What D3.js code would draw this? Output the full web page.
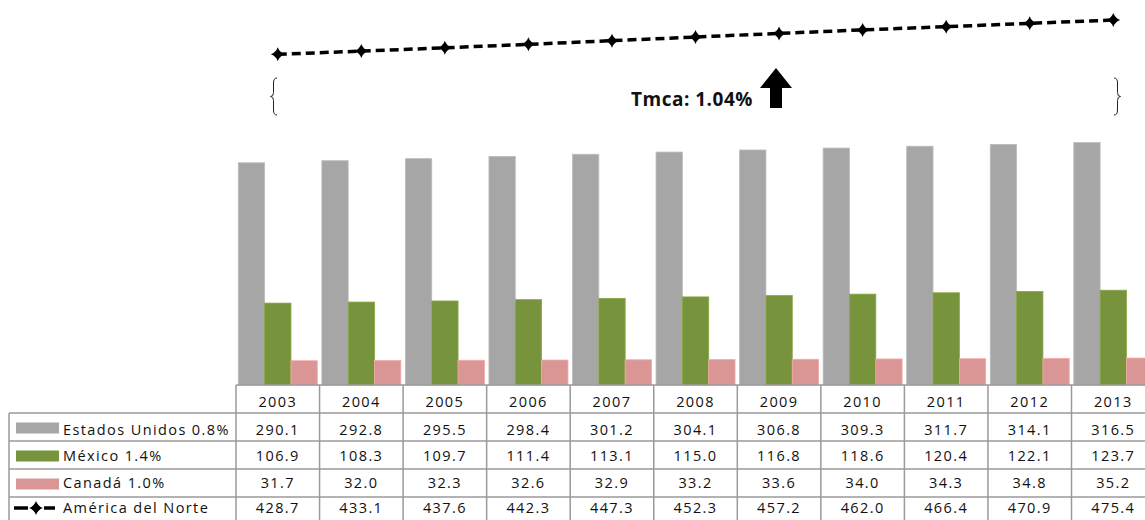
<!DOCTYPE html>
<html><head><meta charset="utf-8">
<script src="https://cdn.jsdelivr.net/npm/d3@7"></script>
<style>
html,body{margin:0;padding:0;background:#fff;}
svg{display:block;}
text{font-family:"Open Sans",sans-serif;fill:#111;}
</style></head>
<body>
<svg id="c" width="1145" height="520"></svg>
<script>
const years = ["2003","2004","2005","2006","2007","2008","2009","2010","2011","2012","2013"];
const seriesNames = ["Estados Unidos 0.8%","México 1.4%","Canadá 1.0%"];
const estadosUnidos = [290.1,292.8,295.5,298.4,301.2,304.1,306.8,309.3,311.7,314.1,316.5];
const mexico = [106.9,108.3,109.7,111.4,113.1,115.0,116.8,118.6,120.4,122.1,123.7];
const canada = [31.7,32.0,32.3,32.6,32.9,33.2,33.6,34.0,34.3,34.8,35.2];
const lineName = "América del Norte";
const americaNorte = [428.7,433.1,437.6,442.3,447.3,452.3,457.2,462.0,466.4,470.9,475.4];
const colors = ["#a6a6a6","#77933c","#d99694"];
const annotation = "Tmca: 1.04%";

const svg = d3.select("#c");
const bandW = 83.55, x0 = 236;
const x = d3.scaleBand().domain(years).range([x0, x0 + bandW*years.length]).padding(0);
const x1 = d3.scaleBand().domain(seriesNames).range([2.3, 81.3]).padding(0);
const y = d3.scaleLinear().domain([0,500]).range([385, 2]);
const yLine = d3.scaleLinear().domain([0,500]).range([369, 2]);

const seriesVals = [estadosUnidos, mexico, canada];

// bars
seriesNames.forEach((s, si) => {
  svg.append("g").selectAll("rect").data(years).join("rect")
    .attr("x", d => x(d) + x1(s))
    .attr("width", x1.bandwidth())
    .attr("y", (d,i) => y(seriesVals[si][i]))
    .attr("height", (d,i) => y(0) - y(seriesVals[si][i]))
    .attr("fill", colors[si])
    .attr("stroke", d3.color(colors[si]).brighter(0.35))
    .attr("stroke-width", 0.8);
});

// line
const cx = d => x(d) + x.bandwidth()/2;
const line = d3.line().x((d,i) => cx(years[i])).y(d => yLine(d));
svg.append("path").datum(americaNorte)
  .attr("d", line).attr("fill","none").attr("stroke","#000")
  .attr("stroke-width",3.5).attr("stroke-dasharray","9,5");
const star = "M0,-7Q1.8,-1.8 7,0Q1.8,1.8 0,7Q-1.8,1.8 -7,0Q-1.8,-1.8 0,-7Z";
svg.append("g").selectAll("path").data(americaNorte).join("path")
  .attr("d", star)
  .attr("transform", (d,i) => `translate(${cx(years[i])},${yLine(d)})`)
  .attr("fill","#000");

// braces
const bTop = 78, bBot = 115, bMid = (bTop+bBot)/2;
function brace(xe, dir){ // dir -1 points left, +1 points right
  const xs = xe + dir*3.5, xp = xs + dir*3;
  return `M${xe},${bTop}Q${xs},${bTop} ${xs},${bTop+5}L${xs},${bMid-4}Q${xs},${bMid} ${xp},${bMid}Q${xs},${bMid} ${xs},${bMid+4}L${xs},${bBot-5}Q${xs},${bBot} ${xe},${bBot}`;
}
svg.append("path").attr("d", brace(277,-1)).attr("fill","none").attr("stroke","#222").attr("stroke-width",1);
svg.append("path").attr("d", brace(1114,1)).attr("fill","none").attr("stroke","#222").attr("stroke-width",1);

// annotation
svg.append("text").attr("x",631).attr("y",106).attr("font-weight","bold")
  .attr("font-size",19).attr("letter-spacing","0.5px").attr("fill","#000").text(annotation);
svg.append("path").attr("d","M760,88L776,68L792,88L782,88L782,108L770,108L770,88Z").attr("fill","#000");

// table
const rowBase = [406.5,435,461,488,513];
const tg = svg.append("g");
const gridC = "#9a9a9a";
const xEnd = x0 + bandW*years.length;
tg.append("line").attr("x1",x0).attr("x2",xEnd).attr("y1",385).attr("y2",385).attr("stroke",gridC).attr("stroke-width",1.5);
[413,441,469,497].forEach(yy => tg.append("line").attr("x1",9).attr("x2",xEnd).attr("y1",yy).attr("y2",yy).attr("stroke",gridC).attr("stroke-width",1.5));
years.forEach(yr => tg.append("line").attr("x1",x(yr)).attr("x2",x(yr)).attr("y1",385).attr("y2",520).attr("stroke",gridC).attr("stroke-width",1.5));
tg.append("line").attr("x1",9).attr("x2",9).attr("y1",413).attr("y2",520).attr("stroke",gridC).attr("stroke-width",1.5);

const fs = 14.5, ls = "1.4px";
tg.selectAll("text.yr").data(years).join("text").attr("class","yr")
  .attr("x", d => cx(d)).attr("y", rowBase[0]).attr("text-anchor","middle")
  .attr("font-size",fs).attr("letter-spacing",ls).text(d => d);
const rows = [estadosUnidos, mexico, canada, americaNorte];
rows.forEach((vals, ri) => {
  tg.append("g").selectAll("text").data(vals).join("text")
    .attr("x",(d,i) => cx(years[i])).attr("y", rowBase[ri+1]).attr("text-anchor","middle")
    .attr("font-size",fs).attr("letter-spacing",ls).text(d => d.toFixed(1));
});
const rowTop = [385,413,441,469,497];
seriesNames.forEach((s, si) => {
  tg.append("rect").attr("x",16).attr("y",rowTop[si+1]+9.5).attr("width",43).attr("height",11).attr("fill",colors[si]);
  tg.append("text").attr("x",63).attr("y",rowBase[si+1]).attr("font-size",fs).attr("letter-spacing",ls).text(s);
});
const ly = 508;
tg.append("line").attr("x1",14).attr("x2",28).attr("y1",ly).attr("y2",ly).attr("stroke","#000").attr("stroke-width",3.5);
tg.append("line").attr("x1",44).attr("x2",55).attr("y1",ly).attr("y2",ly).attr("stroke","#000").attr("stroke-width",3.5);
tg.append("path").attr("d",star).attr("transform",`translate(36,${ly})`).attr("fill","#000");
tg.append("text").attr("x",63).attr("y",rowBase[4]).attr("font-size",fs).attr("letter-spacing",ls).text(lineName);
</script>
</body></html>
